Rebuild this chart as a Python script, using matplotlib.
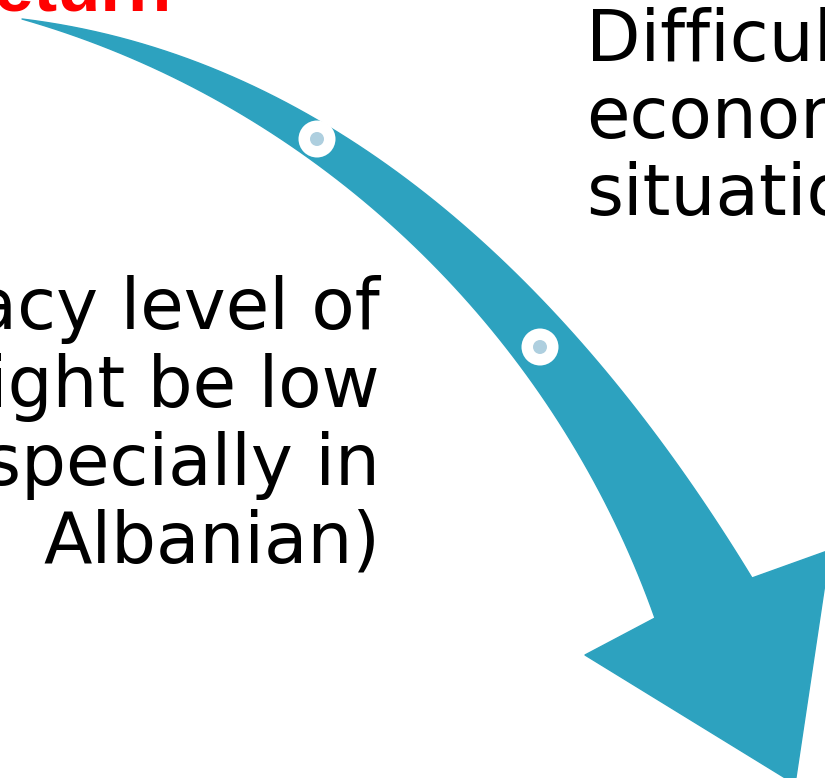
import matplotlib
matplotlib.use("Agg")
import matplotlib.pyplot as plt
from matplotlib.path import Path
from matplotlib.patches import PathPatch, Circle
import numpy as np

# ---- content ----
title_text = "Return"
right_lines = ["Difficult", "economic", "situation"]
left_lines = ["Literacy level of", "might be low", "(especially in", "Albanian)"]

# arrow outline (pixel space of the 825x778 crop)
upper_edge = [(22, 19), (83, 33), (167, 56), (233, 80), (280, 100), (317, 118),
              (383, 157), (450, 210), (497, 252), (573, 334), (640, 427),
              (720, 527), (752, 578)]
lower_edge = [(22, 19), (83, 40), (167, 78), (200, 95), (280, 138), (317, 160),
              (383, 210), (440, 272), (507, 350), (573, 450), (627, 550),
              (655, 618)]
head = [(752, 578), (830, 550), (795, 784), (585, 655), (655, 620)]
dots = [(317, 139), (540, 347)]

BLUE = "#2DA2BF"
DOT = "#AECFDF"


def fit_bezier(points, n=80):
    """Least-squares cubic Bezier through measured edge points (fixed ends)."""
    pts = np.array(points, float)
    d = np.r_[0, np.cumsum(np.hypot(*np.diff(pts, axis=0).T))]
    t = d / d[-1]
    P0, P3 = pts[0], pts[-1]
    b0 = (1 - t) ** 3
    b1 = 3 * (1 - t) ** 2 * t
    b2 = 3 * (1 - t) * t ** 2
    b3 = t ** 3
    A = np.c_[b1, b2]
    rhs = pts - np.outer(b0, P0) - np.outer(b3, P3)
    sol, *_ = np.linalg.lstsq(A, rhs, rcond=None)
    P1, P2 = sol
    s = np.linspace(0, 1, n)[:, None]
    return ((1 - s) ** 3 * P0 + 3 * (1 - s) ** 2 * s * P1
            + 3 * (1 - s) * s ** 2 * P2 + s ** 3 * P3)


fig = plt.figure(figsize=(8.25, 7.78), dpi=100)
ax = fig.add_axes([0, 0, 1, 1])
ax.set_xlim(0, 825)
ax.set_ylim(778, 0)
ax.axis("off")

up = fit_bezier(upper_edge)
lo = fit_bezier(lower_edge)
outline = np.vstack([up, np.array(head[1:4], float), lo[::-1]])
codes = [Path.MOVETO] + [Path.LINETO] * (len(outline) - 1) + [Path.CLOSEPOLY]
verts = np.vstack([outline, outline[:1]])
ax.add_patch(PathPatch(Path(verts, codes), facecolor=BLUE, edgecolor=BLUE,
                       linewidth=1.0, joinstyle="round", zorder=2))

for (cx, cy) in dots:
    ax.add_patch(Circle((cx, cy), 18.5, facecolor="white", edgecolor="none", zorder=3))
    ax.add_patch(Circle((cx, cy), 7, facecolor=DOT, edgecolor="none", zorder=4))

FS = 51
ax.text(172, 10, title_text, color="#FF0000", fontsize=FS, fontweight="bold",
        ha="right", va="baseline", family="Liberation Sans", zorder=5)

for i, s in enumerate(right_lines):
    ax.text(586, 61 + i * 77, s, color="black", fontsize=FS, ha="left",
            va="baseline", family="DejaVu Sans", zorder=5)

for i, s in enumerate(left_lines):
    ax.text(380, 329 + i * 78, s, color="black", fontsize=FS, ha="right",
            va="baseline", family="DejaVu Sans", zorder=5)

fig.savefig("out.png", dpi=100)
